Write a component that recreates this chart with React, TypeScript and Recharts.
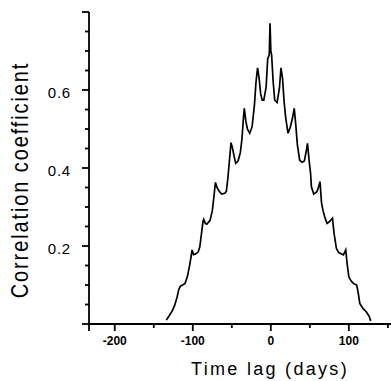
import React from 'react';
import { LineChart, Line, XAxis, YAxis } from 'recharts';

// lag in days and the correlation
const lags = [
  -134, -130, -126, -123, -120, -118, -116, -113, -110, -107, -104, -102, -101, -99, -96, -93, -91, -89, -87, -86,
  -84, -82, -78, -75, -73, -71, -69, -66, -63, -59, -57, -55, -53, -51, -49, -47, -45, -42, -39, -37,
  -35, -34, -32, -30, -27, -24, -21, -19, -17, -15, -13, -11, -9, -6, -4, -2, -1, 0, 1, 3,
  5, 8, 11, 13, 15, 17, 19, 22, 25, 28, 30, 32, 34, 37, 40, 43, 46, 47, 49, 51,
  52, 55, 59, 61, 63, 65, 67, 69, 72, 75, 79, 81, 84, 87, 90, 93, 96, 98, 100, 103,
  106, 110, 112, 114, 118, 122, 126, 128,
];
const corr = [
  0.01, 0.022, 0.035, 0.049, 0.07, 0.088, 0.097, 0.1, 0.104, 0.121, 0.151, 0.175, 0.19, 0.178, 0.18, 0.185, 0.198, 0.23, 0.262, 0.268,
  0.258, 0.256, 0.265, 0.29, 0.325, 0.363, 0.35, 0.34, 0.333, 0.335, 0.34, 0.375, 0.42, 0.465, 0.45, 0.43, 0.412, 0.418, 0.44, 0.475,
  0.53, 0.553, 0.52, 0.5, 0.489, 0.506, 0.562, 0.62, 0.657, 0.63, 0.59, 0.574, 0.574, 0.608, 0.68, 0.69, 0.771, 0.7, 0.69, 0.621,
  0.574, 0.568, 0.604, 0.657, 0.63, 0.57, 0.53, 0.489, 0.505, 0.53, 0.553, 0.51, 0.46, 0.42, 0.415, 0.418, 0.45, 0.463, 0.42, 0.385,
  0.352, 0.333, 0.339, 0.35, 0.365, 0.31, 0.29, 0.275, 0.258, 0.262, 0.271, 0.233, 0.194, 0.183, 0.18, 0.177, 0.19, 0.151, 0.121, 0.11,
  0.104, 0.1, 0.08, 0.053, 0.04, 0.032, 0.02, 0.008,
];

const xTicks = [-233, -200, -150, -100, -50, 0, 50, 100, 150];
const xLabelled = [-200, -100, 0, 100];
const yTicks = [0, 0.05, 0.1, 0.15, 0.2, 0.25, 0.3, 0.35, 0.4, 0.45, 0.5, 0.55, 0.6, 0.65, 0.7, 0.75, 0.8];
const yLabelled = [0.2, 0.4, 0.6];
const yMajor = [0, 0.2, 0.4, 0.6, 0.8];

const data = lags.map((lag, i) => ({ lag, r: corr[i] }));

const FONT = '"Liberation Sans", Arial, sans-serif';

const XTick = (props: any) => {
  const { x, y, payload } = props;
  const v = payload.value;
  const major = v % 100 === 0 || v === xTicks[0];
  return (
    <g>
      <line x1={x} x2={x} y1={y} y2={y + (major ? 7 : 4)} stroke="#000" strokeWidth={1.8} />
      {xLabelled.includes(v) && (
        <text x={x} y={y + 21} textAnchor="middle" fontSize={12} fontWeight="bold" fontFamily={FONT} fill="#000">
          {v}
        </text>
      )}
    </g>
  );
};

const YTick = (props: any) => {
  const { x, y, payload } = props;
  const v = payload.value;
  const major = yMajor.some((m) => Math.abs(m - v) < 1e-6);
  const lab = yLabelled.find((m) => Math.abs(m - v) < 1e-6);
  return (
    <g>
      <line x1={x} x2={x - (major ? 7 : 4)} y1={y} y2={y} stroke="#000" strokeWidth={1.8} />
      {lab !== undefined && (
        <text x={x - 18} y={y + 7.5} textAnchor="end" fontSize={15} letterSpacing={0.8} fontFamily={FONT} fill="#000">
          {lab.toFixed(1)}
        </text>
      )}
    </g>
  );
};

export default function App() {
  return (
    <div style={{ position: 'absolute', left: 0, top: 0, width: 391, height: 381, background: '#fff' }}>
      <LineChart width={391} height={381} data={data} margin={{ top: 12, right: 0, bottom: 0, left: 0 }}>
        <XAxis
          dataKey="lag"
          type="number"
          domain={[-233, 154]}
          ticks={xTicks}
          interval={0}
          height={57}
          tickSize={0}
          tickMargin={0}
          tickLine={false}
          axisLine={{ stroke: '#000', strokeWidth: 1.8 }}
          tick={<XTick />}
          label={{
            content: () => (
              <text x={270} y={375} textAnchor="middle" fontSize={18} letterSpacing={2.3} fontFamily={FONT} fill="#000">
                Time lag (days)
              </text>
            ),
          }}
        />
        <YAxis
          type="number"
          domain={[0, 0.8]}
          ticks={yTicks}
          interval={0}
          width={89}
          tickSize={0}
          tickMargin={0}
          tickLine={false}
          axisLine={{ stroke: '#000', strokeWidth: 1.8 }}
          tick={<YTick />}
          label={{
            content: () => (
              <text
                transform="translate(28,180) rotate(-90) scale(1,1.2)"
                textAnchor="middle"
                fontSize={20}
                letterSpacing={1.9}
                fontFamily={FONT}
                fill="#000"
              >
                Correlation coefficient
              </text>
            ),
          }}
        />
        <Line type="linear" dataKey="r" stroke="#000" strokeWidth={1.7} dot={false} isAnimationActive={false} />
      </LineChart>
    </div>
  );
}
